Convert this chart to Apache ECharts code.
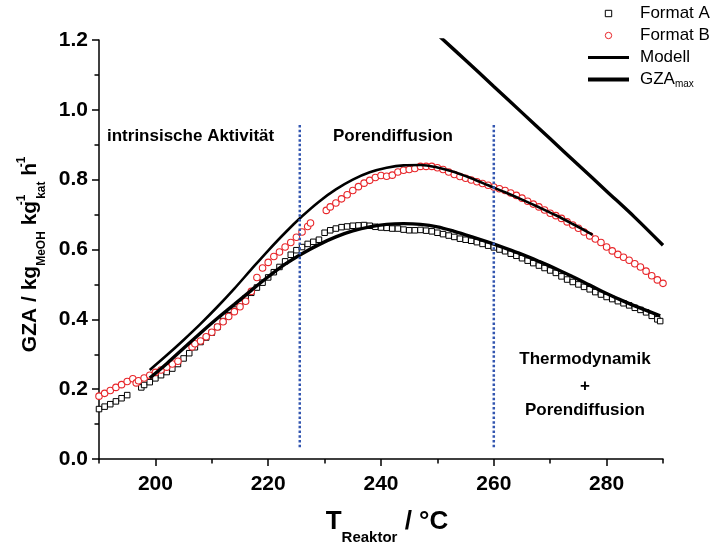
<!DOCTYPE html>
<html><head><meta charset="utf-8">
<script src="https://cdn.jsdelivr.net/npm/echarts@6/dist/echarts.min.js"></script>
<style>html,body{margin:0;padding:0;background:#fff}#c{width:714px;height:544px}</style>
</head><body><div id="c"></div>
<script>
// ---- data ----
const tempA = [190,191,192,193,194,195,197.5,198,199,200,201,202,203,204,205,206,207,208,209,210,211,212,213,214,215,216,217,218,219,220,221,222,223,224,225,226,227,228,229,230,231,232,233,234,235,236,237,238,239,240,241,242,243,244,245,246,247,248,249,250,251,252,253,254,255,256,257,258,259,260,261,262,263,264,265,266,267,268,269,270,271,272,273,274,275,276,277,278,279,280,281,282,283,284,285,286,287,288,289,289.5];
const gzaA = [0.143,0.150,0.157,0.165,0.174,0.183,0.205,0.212,0.220,0.231,0.240,0.249,0.259,0.272,0.288,0.303,0.320,0.335,0.348,0.362,0.378,0.395,0.412,0.428,0.445,0.460,0.476,0.491,0.505,0.520,0.535,0.550,0.566,0.585,0.598,0.607,0.616,0.622,0.628,0.648,0.655,0.660,0.664,0.666,0.668,0.669,0.670,0.668,0.665,0.663,0.662,0.660,0.660,0.657,0.655,0.655,0.656,0.654,0.652,0.648,0.644,0.640,0.636,0.631,0.628,0.625,0.621,0.616,0.611,0.606,0.600,0.595,0.588,0.582,0.575,0.568,0.561,0.554,0.547,0.540,0.533,0.523,0.514,0.507,0.500,0.493,0.486,0.478,0.471,0.464,0.458,0.452,0.446,0.440,0.433,0.427,0.420,0.410,0.400,0.395];

const tempB = [190,191,192,193,194,195,196,196.6,197,198,199,200,201,202,203,204,206.5,207,208,209,210,211,212,213,214,215,216,217,218,219,220,221,222,223,224,225,226,227,227.5,230.3,231,232,233,234,235,236,237,238,239,240,241,242,243,244,245,246,247,248,249,250,251,252,253,254,255,256,257,258,259,260,261,262,263,264,265,266,267,268,269,270,271,272,273,274,275,276,277,278,279,280,281,282,283,284,285,286,287,288,289,290];
const gzaB = [0.180,0.188,0.196,0.205,0.213,0.222,0.230,0.218,0.224,0.232,0.240,0.248,0.255,0.263,0.272,0.280,0.321,0.330,0.338,0.350,0.363,0.378,0.393,0.408,0.422,0.436,0.452,0.480,0.520,0.547,0.563,0.580,0.593,0.607,0.620,0.635,0.650,0.666,0.676,0.712,0.722,0.733,0.745,0.757,0.769,0.780,0.790,0.798,0.806,0.812,0.810,0.813,0.822,0.827,0.829,0.832,0.838,0.838,0.838,0.834,0.829,0.822,0.815,0.809,0.804,0.799,0.794,0.789,0.784,0.779,0.774,0.769,0.762,0.755,0.747,0.738,0.730,0.722,0.713,0.704,0.697,0.689,0.679,0.670,0.661,0.650,0.639,0.630,0.620,0.607,0.596,0.586,0.578,0.569,0.559,0.550,0.538,0.525,0.513,0.503];

const modelAT = [199,202,205,208,211,214,217,220,223,226,229,232,235,238,241,244,247,250,253,256,259,262,265,268,271,274,277,280,283,286,289.5];
const modelAV = [0.232,0.273,0.317,0.361,0.403,0.443,0.483,0.522,0.558,0.588,0.614,0.636,0.653,0.665,0.672,0.674,0.672,0.665,0.652,0.637,0.621,0.604,0.586,0.566,0.545,0.522,0.498,0.474,0.452,0.432,0.410];

const modelBT = [199,202,205,208,211,214,217,220,223,226,229,232,235,238,241,244,247,250,253,256,259,262,265,268,271,274,277,277.5];
const modelBV = [0.255,0.297,0.341,0.387,0.436,0.488,0.543,0.597,0.648,0.695,0.737,0.772,0.800,0.821,0.834,0.841,0.842,0.835,0.822,0.804,0.784,0.764,0.743,0.721,0.698,0.673,0.647,0.642];

const gzaMaxT = [250,255,260,265,270,275,280,285,290];
const gzaMaxV = [1.216,1.142,1.067,0.992,0.917,0.842,0.767,0.692,0.612];

const regionBounds = [225.6, 260];
const dividerSpan = [0.034, 0.96];

const xTickLabels = [200,220,240,260,280];
const xMinorTicks = [190,210,230,250,270,290];
const yTickLabels = [0.0,0.2,0.4,0.6,0.8,1.0,1.2];

// ---- chart ----
const FF = '"Liberation Sans", Arial, Helvetica, sans-serif';
const zip = (a, b) => a.map((t, i) => [t, b[i]]);
const chart = echarts.init(document.getElementById('c'), null, {renderer: 'canvas'});

const series = [
  {name: 'Format A', type: 'line', data: zip(tempA, gzaA), symbol: 'rect', symbolSize: 5.5,
   lineStyle: {opacity: 0, width: 0}, itemStyle: {color: '#ffffff', borderColor: '#000000', borderWidth: 1}, z: 2},
  {name: 'Format B', type: 'line', data: zip(tempB, gzaB), symbol: 'circle', symbolSize: 6.5,
   lineStyle: {opacity: 0, width: 0}, itemStyle: {color: '#ffffff', borderColor: '#e8262a', borderWidth: 1.1}, z: 2},
  {name: 'Modell', type: 'line', data: zip(modelBT, modelBV), smooth: 0.35, symbol: 'none',
   lineStyle: {color: '#000', width: 2.6}, itemStyle: {color: '#000'}, z: 3},
  {name: 'Modell', type: 'line', data: zip(modelAT, modelAV), smooth: 0.35, symbol: 'none',
   lineStyle: {color: '#000', width: 3.4}, itemStyle: {color: '#000'}, z: 3},
  {name: 'GZAmax', type: 'line', data: zip(gzaMaxT, gzaMaxV), smooth: 0.35, symbol: 'none',
   lineStyle: {color: '#000', width: 3.4}, itemStyle: {color: '#000'}, z: 3}
];
regionBounds.forEach((t) => {
  series.push({name: 'div' + t, type: 'line', data: [[t, dividerSpan[0]], [t, dividerSpan[1]]], symbol: 'none',
    lineStyle: {color: '#3356b0', width: 2.5, type: [2.5, 2.2]}, z: 4, silent: true});
});

chart.setOption({
  animation: false,
  backgroundColor: '#fff',
  grid: {left: 99, right: 51, top: 40, bottom: 85, containLabel: false, outerBoundsMode: 'none'},
  legend: {
    data: [
      {name: 'Format A', itemStyle: {borderWidth: 1}},
      {name: 'Format B', itemStyle: {borderWidth: 1}},
      {name: 'Modell', icon: 'path://M0,0h41v3h-41z'},
      {name: 'GZAmax', icon: 'path://M0,0h41v4h-41z'}],
    orient: 'vertical', left: 588, top: 5, padding: 0, itemWidth: 41, itemHeight: 8, itemGap: 5,
    textStyle: {fontSize: 17, fontFamily: FF, color: '#000', padding: [0, 0, 0, 6],
      rich: {m: {fontSize: 17, fontFamily: FF, color: '#000'}, s: {fontSize: 10, fontFamily: FF, color: '#000', verticalAlign: 'bottom', padding: [10, 0, 0, 0]}}},
    formatter: (n) => n === 'GZAmax' ? '{m|GZA}{s|max}' : n
  },
  xAxis: [{
    type: 'value', min: 190, max: 290, interval: 10,
    axisLine: {lineStyle: {color: '#000', width: 1.5}},
    axisTick: {show: true, customValues: xTickLabels, length: 7, lineStyle: {color: '#000', width: 1.5}},
    axisLabel: {customValues: xTickLabels, fontSize: 21, fontWeight: 'bold', fontFamily: FF, color: '#000', margin: 15},
    splitLine: {show: false},
    name: '{T|T}{sb|Reaktor}{m| / °C}', nameLocation: 'middle', nameGap: 48,
    nameTextStyle: {padding: [0, 0, 0, 12], rich: {
      T: {fontSize: 26, fontWeight: 'bold', fontFamily: FF, color: '#000', lineHeight: 30},
      sb: {fontSize: 15, fontWeight: 'bold', fontFamily: FF, color: '#000', verticalAlign: 'bottom', lineHeight: 15, padding: [0,0,-8,0]},
      m: {fontSize: 26, fontWeight: 'bold', fontFamily: FF, color: '#000', lineHeight: 30}
    }}
  }, {
    type: 'value', min: 190, max: 290, interval: 10, position: 'bottom',
    axisLine: {show: false},
    axisTick: {show: true, customValues: xMinorTicks, length: 4.5, lineStyle: {color: '#000', width: 1.5}},
    axisLabel: {show: false}, splitLine: {show: false}
  }],
  yAxis: {
    type: 'value', min: 0, max: 1.2, interval: 0.2,
    axisLine: {show: true, lineStyle: {color: '#000', width: 1.5}},
    axisTick: {show: true, length: 7, lineStyle: {color: '#000', width: 1.5}},
    minorTick: {show: true, splitNumber: 2, length: 4.5, lineStyle: {color: '#000', width: 1.5}},
    axisLabel: {fontSize: 21, fontWeight: 'bold', fontFamily: FF, color: '#000', margin: 11,
      formatter: (v) => v.toFixed(1)},
    splitLine: {show: false},
    name: '{m|GZA / kg}{sb|MeOH}{m| kg}{sp|-1}{sb|kat}{m| h}{sp|-1}',
    nameLocation: 'middle', nameGap: 55, nameRotate: 90,
    nameTextStyle: {padding: [0, 14, 0, 0], rich: {
      m: {fontSize: 21, fontWeight: 'bold', fontFamily: FF, color: '#000', lineHeight: 28},
      sb: {fontSize: 12, fontWeight: 'bold', fontFamily: FF, color: '#000', verticalAlign: 'bottom', lineHeight: 12, padding: [0,0,-4,0]},
      sp: {fontSize: 12, fontWeight: 'bold', fontFamily: FF, color: '#000', verticalAlign: 'top', lineHeight: 12, width: 2}
    }}
  },
  graphic: [
    {type: 'text', x: 107, y: 136, style: {text: 'intrinsische Aktivität', font: 'bold 17px ' + FF, fill: '#000', align: 'left', verticalAlign: 'middle'}},
    {type: 'text', x: 333, y: 136, style: {text: 'Porendiffusion', font: 'bold 17px ' + FF, fill: '#000', align: 'left', verticalAlign: 'middle'}},
    {type: 'text', x: 585, y: 359, style: {text: 'Thermodynamik', font: 'bold 17px ' + FF, fill: '#000', align: 'center', verticalAlign: 'middle'}},
    {type: 'text', x: 585, y: 386, style: {text: '+', font: 'bold 17px ' + FF, fill: '#000', align: 'center', verticalAlign: 'middle'}},
    {type: 'text', x: 585, y: 410, style: {text: 'Porendiffusion', font: 'bold 17px ' + FF, fill: '#000', align: 'center', verticalAlign: 'middle'}}
  ],
  series: series
});
</script></body></html>
